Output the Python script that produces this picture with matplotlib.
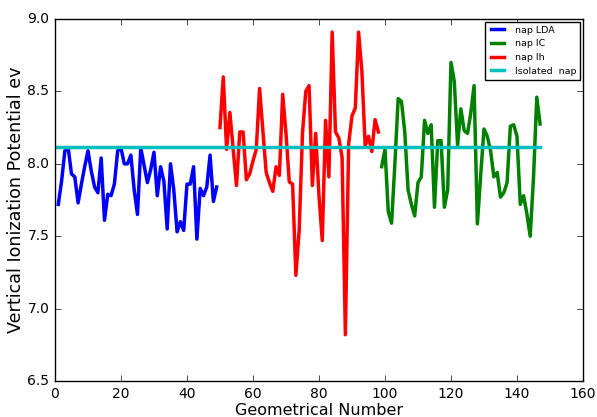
import numpy as np
import matplotlib
matplotlib.use("Agg")
import matplotlib.pyplot as plt

# ionization potentials
lda = [7.72, 7.88, 8.09, 8.11, 7.93, 7.91, 7.73, 7.86, 7.98, 8.09,
       7.95, 7.84, 7.80, 8.04, 7.61, 7.79, 7.78, 7.86, 8.09, 8.11,
       8.00, 8.00, 8.06, 7.82, 7.65, 8.11, 7.99, 7.87, 7.96, 8.08,
       7.78, 7.98, 7.88, 7.55, 8.00, 7.82, 7.53, 7.60, 7.54, 7.86,
       7.86, 7.98, 7.48, 7.83, 7.78, 7.84, 8.06, 7.74, 7.84]
ih = [8.25, 8.60, 8.10, 8.355, 8.10, 7.85, 8.22, 8.22, 7.89, 7.93,
      8.02, 8.10, 8.52, 8.23, 7.94, 7.87, 7.81, 7.98, 7.92, 8.48,
      8.21, 7.875, 7.86, 7.23, 7.54, 8.21, 8.50, 8.54, 7.85, 8.21,
      7.78, 7.47, 8.30, 7.91, 8.91, 8.22, 8.18, 8.045, 6.82, 8.14,
      8.33, 8.385, 8.91, 8.64, 8.125, 8.19, 8.085, 8.305, 8.22]
ic = [7.98, 8.10, 7.67, 7.59, 8.00, 8.45, 8.43, 8.22, 7.82, 7.72,
      7.64, 7.87, 7.91, 8.30, 8.21, 8.27, 7.70, 8.16, 8.16, 7.70,
      7.82, 8.70, 8.57, 8.13, 8.38, 8.23, 8.21, 8.35, 8.54, 7.585,
      7.92, 8.24, 8.19, 8.09, 7.91, 7.94, 7.77, 7.80, 7.87, 8.26,
      8.27, 8.19, 7.72, 7.78, 7.655, 7.50, 7.90, 8.46, 8.275]
isolated = 8.115

x_lda = np.arange(1, 1 + len(lda))
x_ih = np.arange(50, 50 + len(ih))
x_ic = np.arange(99, 99 + len(ic))
x_iso = np.arange(0, 148)

plt.style.use('classic')
fig = plt.figure(figsize=(5.97, 4.17), dpi=100, facecolor='white')
ax = fig.add_axes([0.0921, 0.0863, 0.8844, 0.8681])

l1, = ax.plot(x_lda, lda, 'b-', lw=2.5, label='nap LDA')
l3, = ax.plot(x_ih, ih, 'r-', lw=2.5, label='nap Ih')
l2, = ax.plot(x_ic, ic, 'g-', lw=2.5, label='nap IC')
l4, = ax.plot(x_iso, [isolated] * len(x_iso), 'c-', lw=2.5, label='Isolated  nap')

ax.set_xlim(0, 160)
ax.set_ylim(6.5, 9.0)
ax.set_xticks(np.arange(0, 161, 20))
ax.set_yticks(np.arange(6.5, 9.01, 0.5))
ax.tick_params(labelsize=10)
ax.set_xlabel("Geometrical Number", fontsize=11.5, labelpad=2)
ax.set_ylabel("Vertical Ionization Potential ev", fontsize=12.6, labelpad=2)
ax.legend(handles=[l1, l2, l3, l4], loc='upper right', fontsize=6.8,
          borderaxespad=0.3)

fig.savefig("out.png", dpi=100, facecolor='white')
